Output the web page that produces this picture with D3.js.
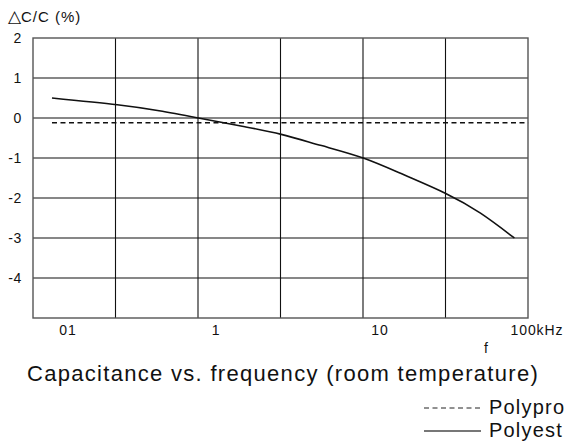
<!DOCTYPE html>
<html><head><meta charset="utf-8">
<script src="https://cdn.jsdelivr.net/npm/d3@7"></script>
<style>html,body{margin:0;padding:0;background:#fff;overflow:hidden}</style>
</head><body><svg id="chart" width="567" height="448"></svg>
<script>
// Capacitance change vs. frequency at room temperature
const yTicks = [2, 1, 0, -1, -2, -3, -4];
const xTickValues = [0.1, 1, 10, 100];
const xTickLabels = ["01", "1", "10", "100kHz"];

// Polyester film: ΔC/C (%) vs. frequency (kHz)
const polyesterFreq  = [0.1, 0.25, 0.45, 0.78, 1.5, 2.5, 4.4, 7.9, 14, 25, 41, 66];
const polyesterDelta = [0.5, 0.33, 0.18, 0.0, -0.22, -0.41, -0.69, -1.0, -1.42, -1.88, -2.38, -3.0];

// Polypropylene film: essentially flat
const polypropyleneFreq  = [0.1, 80];
const polypropyleneDelta = [-0.12, -0.12];

const seriesNames = ["Polypro", "Polyest"];

const svg = d3.select("#chart");
const font = "'Liberation Sans', Arial, Helvetica, sans-serif";
const plotL = 33, plotR = 528, plotT = 38, plotB = 318;

const x = d3.scaleLog().domain([0.0766, 79.9]).range([plotL, plotR]);
const y = d3.scaleLinear().domain([-5, 2]).range([plotB, plotT]);

// grid: vertical lines split the frame into six equal columns
const cols = 6;
const g = svg.append("g");
g.selectAll("line.v").data(d3.range(1, cols)).join("line")
  .attr("x1", i => plotL + i * (plotR - plotL) / cols)
  .attr("x2", i => plotL + i * (plotR - plotL) / cols)
  .attr("y1", plotT).attr("y2", plotB)
  .attr("stroke", "#111").attr("stroke-width", 1.1);
g.selectAll("line.h").data(yTicks.filter(t => t < 2)).join("line")
  .attr("x1", plotL).attr("x2", plotR)
  .attr("y1", d => y(d)).attr("y2", d => y(d))
  .attr("stroke", "#111").attr("stroke-width", 1.1);
g.append("rect").attr("x", plotL).attr("y", plotT)
  .attr("width", plotR - plotL).attr("height", plotB - plotT)
  .attr("fill", "none").attr("stroke", "#555").attr("stroke-width", 1.4);

// y tick labels
svg.append("g").selectAll("text").data(yTicks).join("text")
  .attr("x", 22).attr("y", d => y(d) + 5)
  .attr("text-anchor", "end")
  .attr("font-family", font).attr("font-size", 14).attr("fill", "#111")
  .attr("letter-spacing", 0.6)
  .text(d => d);

// x tick labels (end labels pulled inward)
svg.append("g").selectAll("text").data(xTickValues).join("text")
  .attr("x", (d, i) => x(d) + (i === 0 ? 16 : i === xTickValues.length - 1 ? -7 : 0))
  .attr("y", 335)
  .attr("text-anchor", "middle")
  .attr("font-family", font).attr("font-size", 14).attr("fill", "#111")
  .attr("letter-spacing", 0.9)
  .text((d, i) => xTickLabels[i]);

svg.append("text").attr("x", 486).attr("y", 353).attr("text-anchor", "middle")
  .attr("font-family", font).attr("font-size", 14).attr("fill", "#111").text("f");

// axis title: larger triangle glyph followed by the ratio text
const yTitle = svg.append("text").attr("x", 8).attr("y", 22)
  .attr("font-family", font).attr("font-size", 15).attr("fill", "#111");
yTitle.append("tspan").attr("font-size", 17).text("△");
yTitle.append("tspan").attr("letter-spacing", 1).text("C/C (%)");

// series
const line = d3.line().x(d => x(d[0])).y(d => y(d[1])).curve(d3.curveNatural);
svg.append("path")
  .datum(polypropyleneFreq.map((f, i) => [f, polypropyleneDelta[i]]))
  .attr("d", line).attr("fill", "none")
  .attr("stroke", "#111").attr("stroke-width", 1.5).attr("stroke-dasharray", "5,3.5");
svg.append("path")
  .datum(polyesterFreq.map((f, i) => [f, polyesterDelta[i]]))
  .attr("d", line).attr("fill", "none")
  .attr("stroke", "#111").attr("stroke-width", 1.6);

// title
svg.append("text").attr("x", 27).attr("y", 381)
  .attr("font-family", font).attr("font-size", 22).attr("fill", "#111")
  .attr("letter-spacing", 1.3)
  .text("Capacitance vs. frequency (room temperature)");

// legend
const lg = svg.append("g");
seriesNames.forEach((name, i) => {
  const ly = 408 + i * 23;
  lg.append("line").attr("x1", 424).attr("x2", 481).attr("y1", ly).attr("y2", ly)
    .attr("stroke", i === 0 ? "#222" : "#777").attr("stroke-width", i === 0 ? 1 : 2)
    .attr("stroke-dasharray", i === 0 ? "5,3.5" : null);
  lg.append("text").attr("x", 489).attr("y", ly + 6)
    .attr("font-family", font).attr("font-size", 20).attr("fill", "#111")
    .attr("letter-spacing", 1.2).text(name);
});
</script></body></html>
